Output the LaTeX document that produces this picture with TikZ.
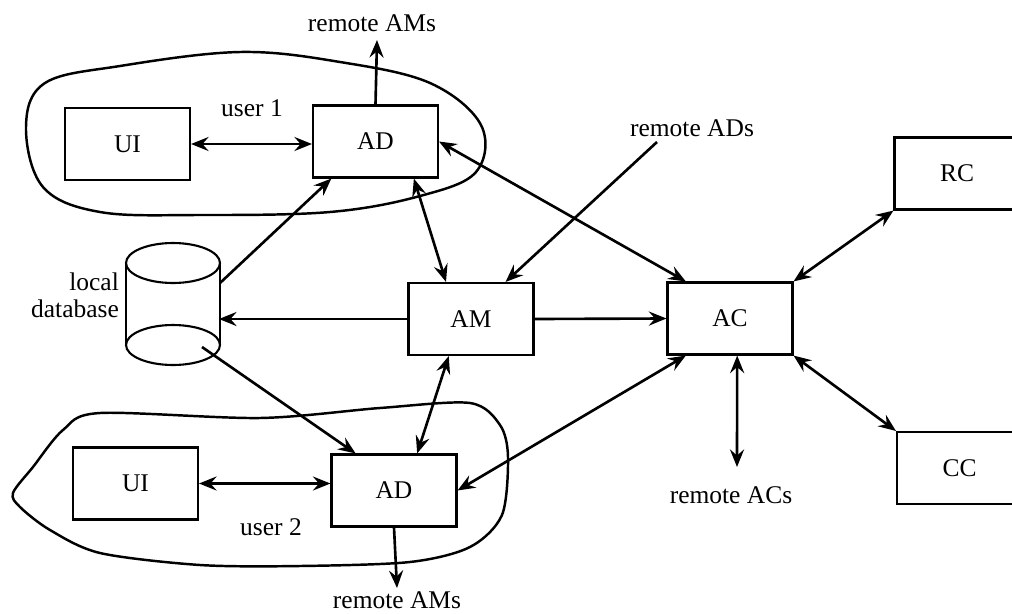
\documentclass[tikz,border=0pt]{standalone}
\usepackage{fontspec}
\setmainfont{Liberation Serif}
\usetikzlibrary{arrows.meta}
\begin{document}
\begin{tikzpicture}[x=0.02cm,y=-0.02cm,line width=1.5pt,font=\fontsize{14.5}{15.5}\selectfont,>={Stealth[length=10pt,width=8pt,inset=3.5pt]}]
	\tikzset{bx/.style={draw,rectangle,line width=1.2pt,minimum width=2.5cm,minimum height=1.44cm}}
	\useasboundingbox(0,0)rectangle(1012,613);
	% the two user groups
	\draw[line width=1.4pt]plot[smooth cycle,tension=0.6]coordinates{(240,52)(340,62)(430,83)(481,125)(476,172)(420,196)(330,212)(200,215)(100,212)(43,187)(26,127)(45,83)(120,66)};
	\draw[line width=1.4pt]plot[smooth cycle,tension=0.5]coordinates{(100,413)(260,418)(380,408)(470,403)(500,425)(508,457)(502,515)(470,547)(410,562)(300,566)(200,565)(100,553)(50,530)(20,507)(13,493)(33,467)(63,430)};
	% boxes
	\path(127.5,144)node[bx](UI1){UI}(375.5,141.5)node[bx](AD1){AD};
	\path(135.5,483.5)node[bx](UI2){UI}(394,490.5)node[bx](AD2){AD};
	\path(471,319)node[bx](AM){AM}(730,318.5)node[bx](AC){AC};
	\path(957,173.5)node[bx](RC){RC}(959.5,468)node[bx](CC){CC};
	% local database
	\draw[line width=1.2pt](173,263)ellipse[x radius=0.94cm,y radius=0.4cm](173,345)ellipse[x radius=0.94cm,y radius=0.4cm];
	\draw[line width=1.2pt](126,263)--(126,345)(220,263)--(220,345);
	\coordinate(dbtr)at(220,283);
	\coordinate(dbr)at(219,320);
	\coordinate(dbin)at(202,347);
	\path(75,295)node[align=right](db){local\\database};
	% labels
	\path(252,108)node(u1){user 1}(271,527)node(u2){user 2};
	\path(372,23)node(rAMa){remote AMs}(397,600)node(rAMb){remote AMs};
	\path(692,128)node(rADs){remote ADs}(731,495)node(rACs){remote ACs};
	\coordinate(rAMaend)at(377,40);
	\coordinate(rAMbend)at(397,588);
	\coordinate(rADsbeg)at(657,142);
	\coordinate(rACsend)at(737,467);
	% connectors
	\draw[<->](UI1.east)--(UI1.east-|AD1.west);
	\draw[<->](UI2.east)--(UI2.east-|AD2.west);
	\draw[->](AD1.north)--(rAMaend);
	\draw[->](AD2.south)--(rAMbend);
	\draw[->](dbtr)--(AD1.220);
	\draw[->](dbin)--(AD2.136);
	\draw[->](AM.west)--(AM.west-|dbr);
	\draw[->](AM.east)--(AC.west);
	\draw[->](rADsbeg)--(AM.47);
	\foreach \x/\y in {
	AD1.-44/AM.124,
	AM.-121/AD2.58,
	AD1.east/AC.140,
	AD2.east/AC.220,
	AC.north east/RC.south west,
	AC.south east/CC.north west,
	AC.-79/rACsend}
	\draw[<->](\x)--(\y);
\end{tikzpicture}
\end{document}
